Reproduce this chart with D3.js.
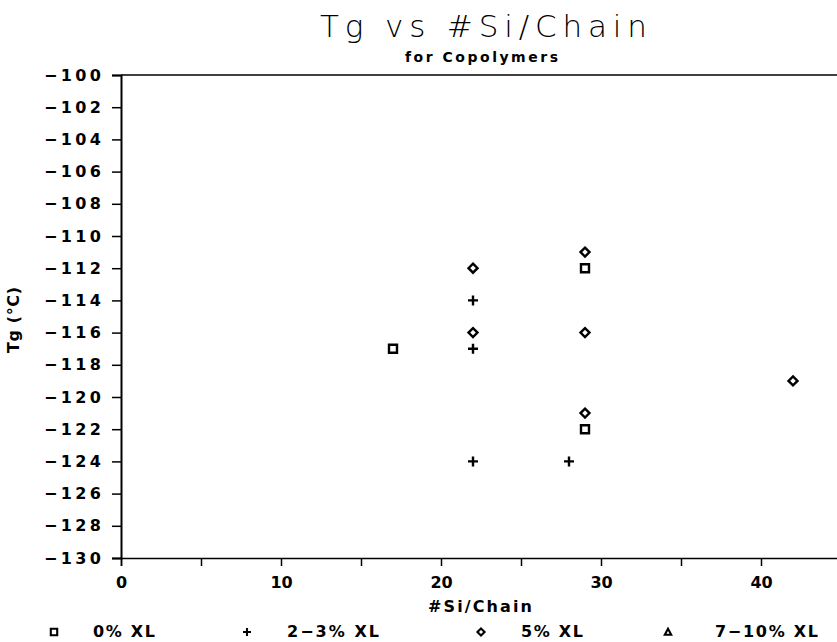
<!DOCTYPE html>
<html lang="en">
<head>
    <meta charset="UTF-8">
    <title>Tg vs #Si/Chain</title>
    <script src="https://d3js.org/d3.v7.min.js"></script>
    <style>
        body { margin: 0; background: #fff; }
        svg text { font-family: "DejaVu Sans", sans-serif; fill: #000; }
        .title { font-weight: 200; font-size: 31px; }
        .sub { font-size: 14px; font-weight: bold; }
        .lbl { font-size: 16px; font-weight: bold; }
    </style>
</head>
<body>
    <div id="chart"></div>
    <script>
        // series: [#Si/Chain, Tg]
        const xl0 = [[17, -117], [29, -112], [29, -122]];
        const xl23 = [[22, -114], [22, -117], [22, -124], [28, -124]];
        const xl5 = [[22, -112], [22, -116], [29, -111], [29, -116], [29, -121], [42, -119]];
        const xl710 = [];
        const legendNames = ["0% XL", "2\u22123% XL", "5% XL", "7\u221210% XL"];
        const yTicks = d3.range(-130, -99, 2);
        const xTicks = d3.range(0, 46, 5);

        const W = 837, H = 642;
        const svg = d3.select("#chart").append("svg")
            .attr("width", W).attr("height", H);

        const x = d3.scaleLinear().domain([0, 45]).range([121, 841]);
        const y = d3.scaleLinear().domain([-130, -100]).range([558, 75]);

        // frame top line
        svg.append("line")
            .attr("x1", x(0)).attr("x2", W)
            .attr("y1", y(-100)).attr("y2", y(-100))
            .attr("stroke", "#000").attr("stroke-width", 1.5);

        // y axis
        const yAx = svg.append("g")
            .attr("transform", `translate(${x(0)},0)`)
            .call(d3.axisLeft(y).tickValues(yTicks).tickSize(9).tickPadding(11)
                .tickFormat(d => "\u2212" + Math.abs(d)));
        yAx.select(".domain").attr("stroke-width", 2);
        yAx.selectAll(".tick line").attr("stroke-width", 1.5);
        // stretch labels to the wide plotter lettering
        yAx.selectAll(".tick text")
            .style("font-size", "16px").style("font-weight", "bold")
            .style("font-family", "'DejaVu Sans', sans-serif")
            .attr("textLength", 57).attr("lengthAdjust", "spacing");

        // x axis
        const xAx = svg.append("g")
            .attr("transform", `translate(0,${y(-130)})`)
            .call(d3.axisBottom(x).tickValues(xTicks).tickSize(8).tickPadding(11)
                .tickFormat(d => d % 10 === 0 ? d : ""));
        xAx.select(".domain").attr("stroke-width", 1.5);
        xAx.selectAll(".tick line").attr("stroke-width", 1.5);
        xAx.selectAll(".tick text")
            .style("font-size", "16px").style("font-weight", "bold")
            .style("font-family", "'DejaVu Sans', sans-serif");

        // titles
        svg.append("text").attr("class", "title")
            .attr("x", 320).attr("y", 37)
            .attr("textLength", 327).attr("lengthAdjust", "spacing")
            .text("Tg vs #Si/Chain");
        svg.append("text").attr("class", "sub")
            .attr("x", 405).attr("y", 62)
            .attr("textLength", 153).attr("lengthAdjust", "spacing")
            .text("for Copolymers");
        svg.append("text").attr("class", "lbl")
            .attr("transform", "translate(19,353) rotate(-90)")
            .attr("textLength", 66).attr("lengthAdjust", "spacing")
            .text("Tg (\u00B0C)");
        svg.append("text").attr("class", "lbl")
            .attr("x", 428).attr("y", 612)
            .attr("textLength", 104).attr("lengthAdjust", "spacing")
            .text("#Si/Chain");

        // marker shapes
        const sq = "M-4,-4H4V4H-4Z";
        const cross = "M-5,0H5M0,-5V5";
        const diamond = "M0,-4.5L4.5,0L0,4.5L-4.5,0Z";
        const tri = "M0,-4L4,3.5H-4Z";

        function drawSeries(data, path) {
            svg.append("g").selectAll("path")
                .data(data).enter().append("path")
                .attr("transform", d => `translate(${x(d[0])},${y(d[1])})`)
                .attr("d", path)
                .attr("fill", "none").attr("stroke", "#000").attr("stroke-width", 2.4);
        }
        drawSeries(xl0, sq);
        drawSeries(xl23, cross);
        drawSeries(xl5, diamond);
        drawSeries(xl710, tri);

        // legend row
        const legMark = [54, 247, 481, 668];
        const legText = [93, 287, 521, 715];
        const legLen = [62, 92, 62, 103];
        const legPaths = [sq, cross, diamond, tri];
        legendNames.forEach((name, i) => {
            svg.append("path")
                .attr("transform", `translate(${legMark[i]},632) scale(0.8)`)
                .attr("d", legPaths[i])
                .attr("fill", "none").attr("stroke", "#000").attr("stroke-width", 2.6);
            svg.append("text").attr("class", "lbl")
                .attr("x", legText[i]).attr("y", 637)
                .attr("textLength", legLen[i]).attr("lengthAdjust", "spacing")
                .text(name);
        });
    </script>
</body>
</html>
